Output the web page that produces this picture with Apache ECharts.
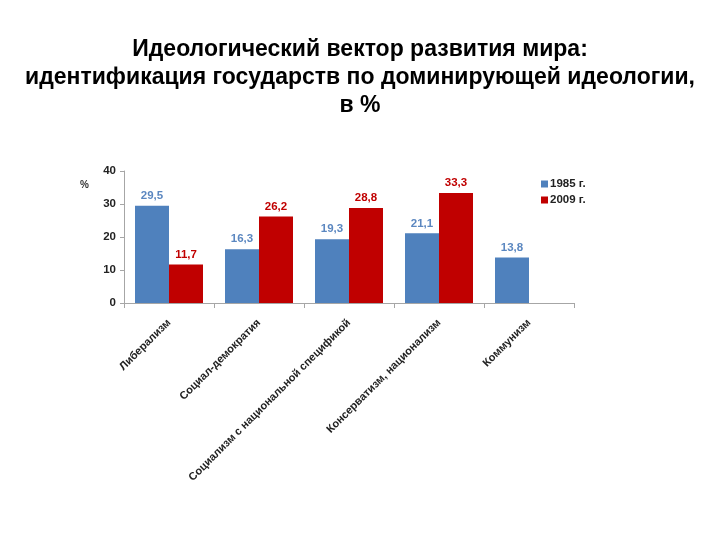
<!DOCTYPE html>
<html><head><meta charset="utf-8">
<script src="https://cdn.jsdelivr.net/npm/echarts@6/dist/echarts.min.js"></script>
<style>html,body{margin:0;padding:0;background:#fff}#c{width:720px;height:540px}</style>
</head><body><div id="c"></div>
<script>
const categories = ['Либерализм','Социал-демократия','Социализм с национальной спецификой','Консерватизм, национализм','Коммунизм'];
const seriesNames = ['1985 г.','2009 г.'];
const values1985 = [29.5, 16.3, 19.3, 21.1, 13.8];
const values2009 = [11.7, 26.2, 28.8, 33.3, null];
const yTicks = [0, 10, 20, 30, 40];

const chart = echarts.init(document.getElementById('c'));
const fmt = p => p.value == null ? '' : String(p.value).replace('.', ',');
const font = 'Liberation Sans, Arial, sans-serif';
chart.setOption({
  animation: false,
  title: {
    text: 'Идеологический вектор развития мира:\nидентификация государств по доминирующей идеологии,\nв %',
    left: 'center', top: 31,
    textStyle: {fontFamily: font, fontWeight: 'bold', fontSize: 23, color: '#000', lineHeight: 28}
  },
  legend: {
    orient: 'vertical', left: 536, top: 173, itemWidth: 7, itemHeight: 7, itemGap: 4,
    icon: 'rect',
    textStyle: {fontFamily: font, fontWeight: 'bold', fontSize: 11.5, color: '#222', padding: [0,0,0,-3]},
    data: seriesNames
  },
  graphic: [{type: 'text', left: 80, top: 180, style: {text: '%', font: 'bold 10px Liberation Sans, Arial', fill: '#333'}}],
  grid: {left: 124, right: 146, top: 171, bottom: 237},
  xAxis: {
    type: 'category', data: categories,
    axisLine: {lineStyle: {color: '#a6a6a6'}},
    axisTick: {show: true, lineStyle: {color: '#a6a6a6'}, length: 5},
    axisLabel: {rotate: 45, interval: 0, fontFamily: font, fontWeight: 'bold', fontSize: 11, color: '#222', margin: 18}
  },
  yAxis: {
    type: 'value', min: 0, max: 40, interval: 10,
    axisLine: {show: true, lineStyle: {color: '#a6a6a6'}},
    axisTick: {show: true, lineStyle: {color: '#a6a6a6'}, length: 4},
    splitLine: {show: false},
    axisLabel: {fontFamily: font, fontWeight: 'bold', fontSize: 11.5, color: '#222', margin: 8,
      formatter: v => yTicks.includes(v) ? String(v) : ''}
  },
  series: [
    {name: seriesNames[0], type: 'bar', data: values1985, barWidth: 34, barGap: '0%',
     itemStyle: {color: '#4F81BD'},
     label: {show: true, position: 'top', formatter: fmt, fontFamily: font, fontWeight: 'bold', fontSize: 11.5, color: '#5B87C0', distance: 4}},
    {name: seriesNames[1], type: 'bar', data: values2009, barWidth: 34,
     itemStyle: {color: '#C00000'},
     label: {show: true, position: 'top', formatter: fmt, fontFamily: font, fontWeight: 'bold', fontSize: 11.5, color: '#C00000', distance: 4}}
  ]
});
</script></body></html>
